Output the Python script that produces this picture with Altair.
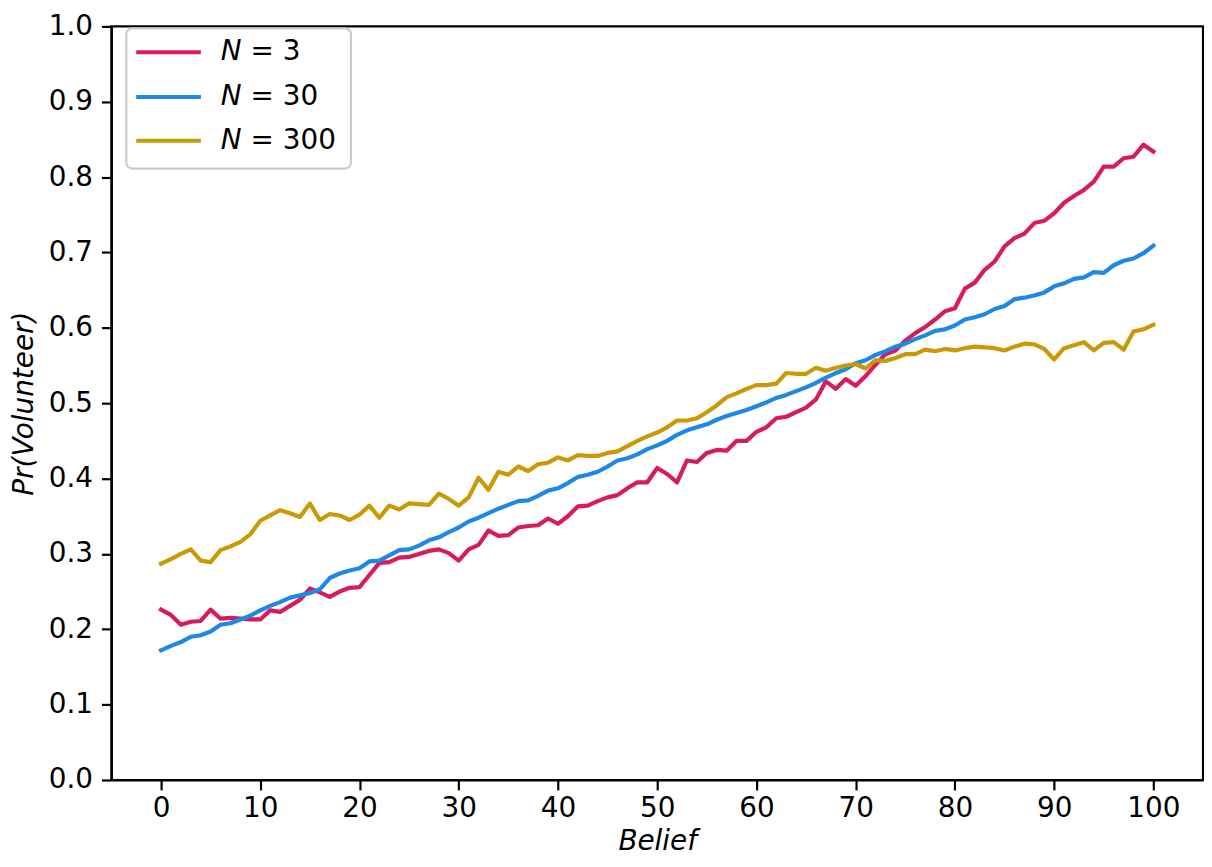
import altair as alt
import pandas as pd

belief = list(range(0, 101))
series_names = ["N = 3", "N = 30", "N = 300"]
series_colors = ["#D81B60", "#1E88E5", "#C99A06"]
legend_nums = ["= 3", "= 30", "= 300"]
x_ticks = list(range(0, 101, 10))
y_ticks = [0.0, 0.1, 0.2, 0.3, 0.4, 0.5, 0.6, 0.7, 0.8, 0.9, 1.0]

n3 = [0.226, 0.219, 0.206, 0.210, 0.211, 0.226, 0.214, 0.215, 0.214, 0.213,
      0.213, 0.225, 0.223, 0.231, 0.239, 0.254, 0.249, 0.243, 0.250, 0.255,
      0.256, 0.272, 0.288, 0.289, 0.295, 0.296, 0.300, 0.304, 0.306, 0.301,
      0.291, 0.306, 0.312, 0.331, 0.324, 0.325, 0.335, 0.337, 0.338, 0.347,
      0.340, 0.350, 0.363, 0.364, 0.370, 0.375, 0.378, 0.387, 0.395, 0.395,
      0.414, 0.406, 0.395, 0.424, 0.422, 0.434, 0.438, 0.437, 0.450, 0.450,
      0.462, 0.468, 0.480, 0.482, 0.488, 0.494, 0.505, 0.529, 0.519, 0.532,
      0.523, 0.536, 0.551, 0.565, 0.570, 0.583, 0.593, 0.601, 0.611, 0.622,
      0.626, 0.652, 0.660, 0.677, 0.688, 0.708, 0.719, 0.725, 0.739, 0.742,
      0.752, 0.766, 0.775, 0.783, 0.794, 0.814, 0.814, 0.825, 0.827, 0.843,
      0.834]

n30 = [0.172, 0.178, 0.183, 0.190, 0.192, 0.197, 0.206, 0.208, 0.213, 0.218,
       0.225, 0.231, 0.236, 0.242, 0.245, 0.248, 0.253, 0.268, 0.274, 0.278,
       0.281, 0.290, 0.291, 0.298, 0.305, 0.306, 0.311, 0.318, 0.322, 0.329,
       0.335, 0.343, 0.348, 0.354, 0.360, 0.365, 0.370, 0.371, 0.377, 0.384,
       0.387, 0.394, 0.402, 0.405, 0.409, 0.416, 0.424, 0.427, 0.432, 0.439,
       0.444, 0.450, 0.458, 0.464, 0.468, 0.472, 0.478, 0.483, 0.487, 0.491,
       0.496, 0.501, 0.507, 0.511, 0.516, 0.521, 0.527, 0.534, 0.540, 0.545,
       0.553, 0.557, 0.564, 0.569, 0.575, 0.579, 0.585, 0.590, 0.596, 0.598,
       0.603, 0.611, 0.614, 0.618, 0.625, 0.629, 0.638, 0.640, 0.643, 0.647,
       0.655, 0.659, 0.665, 0.667, 0.674, 0.673, 0.683, 0.689, 0.692, 0.699,
       0.709]

n300 = [0.287, 0.293, 0.300, 0.306, 0.291, 0.289, 0.305, 0.310, 0.316, 0.326,
        0.344, 0.351, 0.358, 0.354, 0.349, 0.367, 0.345, 0.353, 0.351, 0.345,
        0.352, 0.364, 0.348, 0.364, 0.359, 0.367, 0.366, 0.365, 0.380, 0.373,
        0.364, 0.375, 0.401, 0.385, 0.409, 0.405, 0.416, 0.410, 0.419, 0.421,
        0.428, 0.424, 0.431, 0.430, 0.430, 0.434, 0.436, 0.443, 0.450, 0.456,
        0.461, 0.468, 0.477, 0.477, 0.480, 0.488, 0.497, 0.508, 0.513, 0.519,
        0.524, 0.524, 0.526, 0.540, 0.539, 0.539, 0.547, 0.543, 0.547, 0.550,
        0.552, 0.546, 0.557, 0.556, 0.560, 0.565, 0.565, 0.571, 0.569, 0.572,
        0.570, 0.573, 0.575, 0.574, 0.573, 0.570, 0.575, 0.579, 0.578, 0.572,
        0.558, 0.573, 0.577, 0.581, 0.570, 0.580, 0.581, 0.571, 0.595, 0.598,
        0.604]

rows = []
for name, vals in zip(series_names, [n3, n30, n300]):
    for b, v in zip(belief, vals):
        rows.append({"belief": b, "pr": v, "series": name})
df = pd.DataFrame(rows)

W, H = 1098, 758
FONT = "DejaVu Sans"

lines = alt.Chart(df).mark_line(strokeWidth=4.2, strokeJoin="round", strokeCap="square").encode(
    x=alt.X("belief:Q",
            scale=alt.Scale(domain=[-5, 105], nice=False, zero=False),
            axis=alt.Axis(values=x_ticks, title="Belief", labelFlush=False,
                          labelOverlap=False, titlePadding=5, labelPadding=5)),
    y=alt.Y("pr:Q",
            scale=alt.Scale(domain=[0, 1], nice=False, zero=False),
            axis=alt.Axis(values=y_ticks, format=".1f", title="Pr(Volunteer)",
                          labelFlush=False, labelOverlap=False, titlePadding=10,
                          labelPadding=9)),
    color=alt.Color("series:N", scale=alt.Scale(domain=series_names, range=series_colors),
                    legend=None),
)

one = pd.DataFrame({"k": [0]})
frame = alt.Chart(one).mark_rect(
    fill="white", fillOpacity=0.8, stroke="#cccccc", strokeWidth=2.2, cornerRadius=6
).encode(x=alt.value(15), x2=alt.value(241), y=alt.value(2), y2=alt.value(143))

legend_layers = []
row_y = [26, 71, 115]
for i in range(3):
    legend_layers.append(
        alt.Chart(one).mark_rule(color=series_colors[i], strokeWidth=4.2).encode(
            x=alt.value(25), x2=alt.value(90), y=alt.value(row_y[i]))
    )
    legend_layers.append(
        alt.Chart(one).mark_text(font=FONT, fontSize=28, fontStyle="italic", align="left",
                                 baseline="middle", color="black").encode(
            x=alt.value(110), y=alt.value(row_y[i]), text=alt.value("N"))
    )
    legend_layers.append(
        alt.Chart(one).mark_text(font=FONT, fontSize=28, align="left",
                                 baseline="middle", color="black").encode(
            x=alt.value(140), y=alt.value(row_y[i]), text=alt.value(legend_nums[i]))
    )

chart = alt.layer(lines, frame, *legend_layers).properties(
    width=W, height=H,
    autosize=alt.AutoSizeParams(type="none"),
    padding={"left": 104, "top": 16, "right": 1, "bottom": 77},
).configure_view(stroke="black", strokeWidth=2.2).configure_axis(
    domainColor="black", domainWidth=2.2, tickColor="black", tickWidth=2.2, tickSize=10,
    labelFont=FONT, labelFontSize=28, labelColor="black",
    titleFont=FONT, titleFontSize=28, titleFontWeight="normal", titleFontStyle="italic",
    titleColor="black", grid=False,
)

chart.save("out.html", embed_options={"renderer": "svg", "actions": False})
